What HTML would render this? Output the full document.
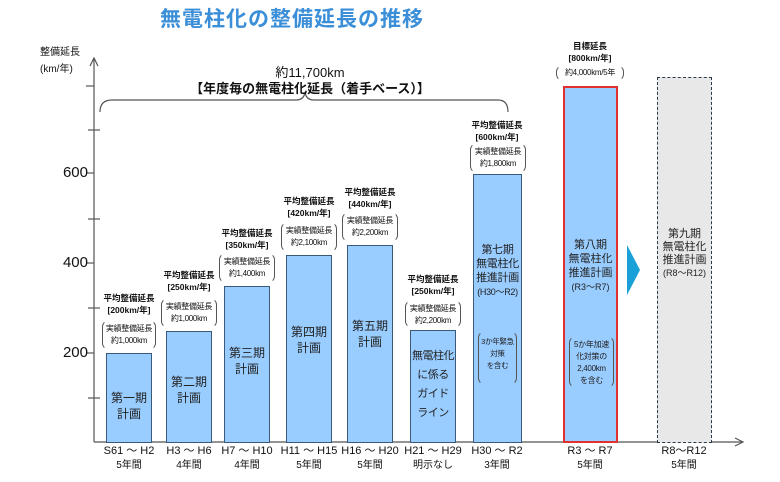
<!DOCTYPE html>
<html><head><meta charset="utf-8"><style>
body{margin:0;width:780px;height:482px;background:#fff;position:relative;overflow:hidden;font-family:"Liberation Sans","Noto Sans CJK JP",sans-serif;color:#111}
.a{position:absolute}
.bar{position:absolute;background:#99CCFF;border:1.5px solid #3a5a7a;box-sizing:border-box;text-align:center;font-size:12px;line-height:16px;color:#222;white-space:nowrap}
.lb{position:absolute;text-align:center;font-size:8.5px;font-weight:bold;line-height:12px;width:70px;white-space:nowrap}
.box{position:absolute;border:1px solid #555;border-radius:7px;border-top-color:transparent;border-bottom-color:transparent;text-align:center;font-size:8px;line-height:12px;padding:2px 0;box-sizing:border-box;white-space:nowrap;letter-spacing:-0.3px}
.yl{position:absolute;font-size:15px;width:40px;text-align:right}
.xl{position:absolute;text-align:center;font-size:11px;width:70px;line-height:14px;white-space:nowrap}
</style></head><body>
<div class="a" style="left:160px;top:3px;font-size:21px;font-weight:bold;color:#3b8fd8;letter-spacing:1px">無電柱化の整備延長の推移</div>
<div class="a" style="left:40px;top:44px;font-size:10px;line-height:17px">整備延長<br>(km/年)</div>
<svg class="a" style="left:0;top:0" width="780" height="482">
<g stroke="#555" stroke-width="1.2" fill="none">
<line x1="94" y1="58" x2="94" y2="442"/><path d="M90 66 L94 58 L98 66"/>
<line x1="94" y1="442" x2="742" y2="442"/><path d="M735 438 L743 442 L735 446"/>
<line x1="86" y1="86" x2="94" y2="86"/><line x1="88" y1="130" x2="100" y2="130"/><line x1="86" y1="173" x2="94" y2="173"/><line x1="88" y1="219" x2="100" y2="219"/><line x1="86" y1="263" x2="94" y2="263"/><line x1="88" y1="308" x2="100" y2="308"/><line x1="86" y1="353" x2="94" y2="353"/><line x1="88" y1="398" x2="100" y2="398"/>
<path d="M100 112 Q100 100 112 100 L296 100 Q304 100 305 92 Q306 100 314 100 L498 100 Q508 100 508 112"/>
</g>
<polygon points="627,245 640,270 627,295" fill="#1aa0d8"/>
</svg>
<div class="yl" style="left:48px;top:164px">600</div>
<div class="yl" style="left:48px;top:254px">400</div>
<div class="yl" style="left:48px;top:344px">200</div>
<div class="a" style="left:200px;top:62px;width:220px;text-align:center;font-size:13px">約11,700km</div>
<div class="a" style="left:180px;top:78px;width:260px;text-align:center;font-size:13px;font-weight:bold">【年度毎の無電柱化延長（着手ベース）】</div>

<div class="bar" style="left:106px;top:353px;width:46px;height:90px;padding-top:36px">第一期<br>計画</div>
<div class="bar" style="left:166px;top:331px;width:46px;height:112px;padding-top:42px">第二期<br>計画</div>
<div class="bar" style="left:224px;top:286px;width:46px;height:157px;padding-top:58px">第三期<br>計画</div>
<div class="bar" style="left:286px;top:255px;width:46px;height:188px;padding-top:68px">第四期<br>計画</div>
<div class="bar" style="left:347px;top:245px;width:46px;height:198px;padding-top:72px">第五期<br>計画</div>
<div class="bar" style="left:410px;top:330px;width:46px;height:113px;padding-top:16px;font-size:11px;line-height:19px;letter-spacing:-0.5px">無電柱化<br>に係る<br>ガイド<br>ライン</div>
<div class="bar" style="left:473px;top:174px;width:49px;height:269px;padding-top:68px;font-size:11px;line-height:14px;letter-spacing:-0.3px">第七期<br>無電柱化<br>推進計画<br><span style="font-size:9px">(H30～R2)</span>
<div class="box" style="left:4px;top:156px;width:39px;height:54px;font-size:7.5px;padding-top:4px">3か年緊急<br>対策<br>を含む</div></div>
<div class="bar" style="left:563px;top:86px;width:55px;height:357px;border:2px solid #e03030;padding-top:150px;font-size:11px;line-height:14px">第八期<br>無電柱化<br>推進計画<br><span style="font-size:9px">(R3～R7)</span>
<div class="box" style="left:4px;top:248px;width:45px;height:52px;font-size:8px;padding-top:2px">5か年加速<br>化対策の<br>2,400km<br>を含む</div></div>
<div class="bar" style="left:657px;top:77px;width:55px;height:366px;background:#e8e8e8;border:1.5px dashed #2a3a4a;padding-top:150px;font-size:11px;line-height:13px">第九期<br>無電柱化<br>推進計画<br><span style="font-size:9px">(R8～R12)</span></div>

<div class="lb" style="left:94px;top:292px">平均整備延長<br>[200km/年]</div>
<div class="box" style="left:102px;top:320px;width:54px;height:30px">実績整備延長<br>約1,000km</div>
<div class="lb" style="left:154px;top:269px">平均整備延長<br>[250km/年]</div>
<div class="box" style="left:161px;top:298px;width:56px;height:30px">実績整備延長<br>約1,000km</div>
<div class="lb" style="left:212px;top:227px">平均整備延長<br>[350km/年]</div>
<div class="box" style="left:219px;top:253px;width:56px;height:30px">実績整備延長<br>約1,400km</div>
<div class="lb" style="left:274px;top:195px">平均整備延長<br>[420km/年]</div>
<div class="box" style="left:281px;top:222px;width:56px;height:30px">実績整備延長<br>約2,100km</div>
<div class="lb" style="left:335px;top:186px">平均整備延長<br>[440km/年]</div>
<div class="box" style="left:342px;top:212px;width:56px;height:30px">実績整備延長<br>約2,200km</div>
<div class="lb" style="left:398px;top:273px">平均整備延長<br>[250km/年]</div>
<div class="box" style="left:405px;top:300px;width:56px;height:28px">実績整備延長<br>約2,200km</div>
<div class="lb" style="left:462px;top:119px">平均整備延長<br>[600km/年]</div>
<div class="box" style="left:470px;top:143px;width:56px;height:30px">実績整備延長<br>約1,800km</div>
<div class="lb" style="left:555px;top:40px">目標延長<br>[800km/年]</div>
<div class="box" style="left:556px;top:65px;width:68px;height:16px;padding:1px 0">約4,000km/5年</div>

<div class="xl" style="left:94px;top:444px">S61 ～ H2<br><span style="font-size:10px">5年間</span></div>
<div class="xl" style="left:154px;top:444px">H3 ～ H6<br><span style="font-size:10px">4年間</span></div>
<div class="xl" style="left:212px;top:444px">H7 ～ H10<br><span style="font-size:10px">4年間</span></div>
<div class="xl" style="left:274px;top:444px">H11 ～ H15<br><span style="font-size:10px">5年間</span></div>
<div class="xl" style="left:335px;top:444px">H16 ～ H20<br><span style="font-size:10px">5年間</span></div>
<div class="xl" style="left:398px;top:444px">H21 ～ H29<br><span style="font-size:10px">明示なし</span></div>
<div class="xl" style="left:462px;top:444px">H30 ～ R2<br><span style="font-size:10px">3年間</span></div>
<div class="xl" style="left:555px;top:444px">R3 ～ R7<br><span style="font-size:10px">5年間</span></div>
<div class="xl" style="left:649px;top:444px">R8～R12<br><span style="font-size:10px">5年間</span></div>
</body></html>
